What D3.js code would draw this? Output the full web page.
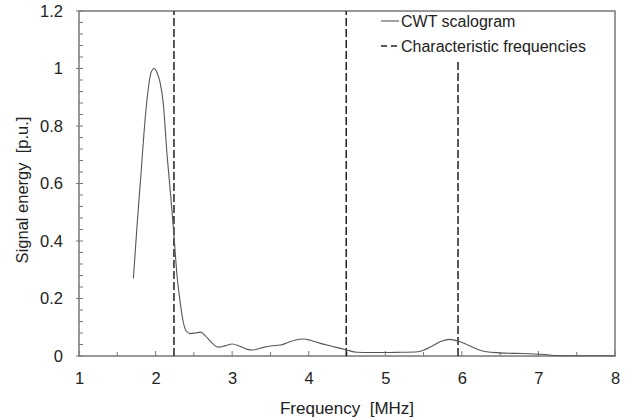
<!DOCTYPE html>
<html>
<head>
<meta charset="utf-8">
<script src="https://cdn.jsdelivr.net/npm/d3@7"></script>
<style>
body { margin: 0; background: #fff; }
text { font-family: "Liberation Sans", Arial, sans-serif; fill: #222; }
</style>
</head>
<body>
<svg id="chart"></svg>
<script>
// data
var freq = [1.71, 1.76, 1.81, 1.85, 1.90, 1.94, 1.98, 2.02, 2.06, 2.10, 2.15, 2.20, 2.24, 2.28, 2.32, 2.36, 2.40, 2.45, 2.52, 2.59,
            2.65, 2.72, 2.82, 2.91, 3.00, 3.10, 3.20, 3.27, 3.38, 3.50, 3.63, 3.72, 3.82, 3.92, 4.02, 4.15, 4.30, 4.48, 4.63, 4.80,
            5.00, 5.20, 5.40, 5.50, 5.62, 5.74, 5.84, 5.95, 6.05, 6.13, 6.22, 6.32, 6.49, 6.70, 6.88, 7.05, 7.21, 7.50, 8.00];
var energy = [0.27, 0.46, 0.635, 0.78, 0.92, 0.985, 1.0, 0.985, 0.95, 0.88, 0.70, 0.55, 0.42, 0.28, 0.19, 0.12, 0.087, 0.078, 0.08, 0.083,
              0.07, 0.05, 0.031, 0.036, 0.042, 0.034, 0.023, 0.021, 0.028, 0.035, 0.038, 0.046, 0.055, 0.059, 0.055, 0.044, 0.034, 0.022, 0.013, 0.012,
              0.012, 0.013, 0.014, 0.02, 0.036, 0.052, 0.058, 0.052, 0.042, 0.032, 0.022, 0.015, 0.011, 0.009, 0.008, 0.006, 0.002, 0.001, 0.001];
var charFreq = [2.24, 4.49, 5.95];
var charTop = [1.2, 1.2, 1.025];   // third line stops under the legend
var xTicks = [1, 2, 3, 4, 5, 6, 7, 8];
var yTicks = [0, 0.2, 0.4, 0.6, 0.8, 1, 1.2];

var W = 638, H = 420;
var plot = {left: 79, top: 11, right: 615, bottom: 356};

var svg = d3.select("#chart").attr("width", W).attr("height", H);

var x = d3.scaleLinear().domain([1, 8]).range([plot.left, plot.right]);
var y = d3.scaleLinear().domain([0, 1.2]).range([plot.bottom, plot.top]);

//minor ticks, pointing inwards
var xMinor = d3.range(1, 8.01, 0.5);
var yMinor = d3.range(0, 1.201, 0.04);

svg.append("g").selectAll("line").data(xMinor).enter().append("line")
	.attr("x1", function(d) {return x(d);})
	.attr("x2", function(d) {return x(d);})
	.attr("y1", plot.bottom)
	.attr("y2", function(d, i) {return plot.bottom - (i % 2 == 0 ? 5 : 4);})
	.attr("stroke", "#777").attr("stroke-width", 1);

svg.append("g").selectAll("line").data(yMinor).enter().append("line")
	.attr("y1", function(d) {return y(d);})
	.attr("y2", function(d) {return y(d);})
	.attr("x1", function(d, i) {return i % 5 == 0 ? plot.left - 3 : plot.left;})
	.attr("x2", plot.left + 4)
	.attr("stroke", "#777").attr("stroke-width", 1);

//frame
svg.append("rect")
	.attr("x", plot.left).attr("y", plot.top)
	.attr("width", plot.right - plot.left).attr("height", plot.bottom - plot.top)
	.attr("fill", "none").attr("stroke", "#777").attr("stroke-width", 1.5);

//tick labels via axes, lines hidden
var xAxis = svg.append("g")
	.attr("transform", "translate(0," + plot.bottom + ")")
	.call(d3.axisBottom(x).tickValues(xTicks).tickFormat(d3.format("d")).tickSize(0).tickPadding(16));
var yAxis = svg.append("g")
	.attr("transform", "translate(" + plot.left + ",0)")
	.call(d3.axisLeft(y).tickValues(yTicks).tickFormat(function(d) {return String(+d.toFixed(1));}).tickSize(0).tickPadding(16));
[xAxis, yAxis].forEach(function(a) {
	a.select(".domain").remove();
	a.selectAll("text").attr("font-size", 16.5).attr("fill", "#222")
		.attr("font-family", "Liberation Sans, Arial, sans-serif");
});

//characteristic frequencies
svg.append("g").selectAll("line").data(charFreq).enter().append("line")
	.attr("x1", function(d) {return x(d);})
	.attr("x2", function(d) {return x(d);})
	.attr("y1", plot.bottom)
	.attr("y2", function(d, i) {return y(charTop[i]);})
	.attr("stroke", "#222").attr("stroke-width", 1.5)
	.attr("stroke-dasharray", "8,3");

//scalogram
var line = d3.line()
	.x(function(d) {return x(d[0]);})
	.y(function(d) {return y(d[1]);})
	.curve(d3.curveMonotoneX);

svg.append("path")
	.datum(d3.zip(freq, energy))
	.attr("d", line)
	.attr("fill", "none")
	.attr("stroke", "#555")
	.attr("stroke-width", 1.1);

//axis titles
svg.append("text")
	.text("Frequency  [MHz]")
	.attr("x", (plot.left + plot.right) / 2)
	.attr("y", 414)
	.attr("text-anchor", "middle")
	.attr("font-size", 17)
	.style("white-space", "pre");

svg.append("text")
	.text("Signal energy  [p.u.]")
	.attr("transform", "translate(28,190) rotate(-90)")
	.attr("text-anchor", "middle")
	.attr("font-size", 16.5)
	.style("white-space", "pre");

//legend
var legend = svg.append("g").attr("transform", "translate(381,0)");
legend.append("line")
	.attr("x1", 0).attr("x2", 18).attr("y1", 21).attr("y2", 21)
	.attr("stroke", "#555").attr("stroke-width", 1.1);
legend.append("text").text("CWT scalogram")
	.attr("x", 20).attr("y", 27).attr("font-size", 16);
legend.append("line")
	.attr("x1", 0).attr("x2", 18).attr("y1", 46).attr("y2", 46)
	.attr("stroke", "#222").attr("stroke-width", 1.3)
	.attr("stroke-dasharray", "6,4");
legend.append("text").text("Characteristic frequencies")
	.attr("x", 20).attr("y", 52).attr("font-size", 16);
</script>
</body>
</html>
